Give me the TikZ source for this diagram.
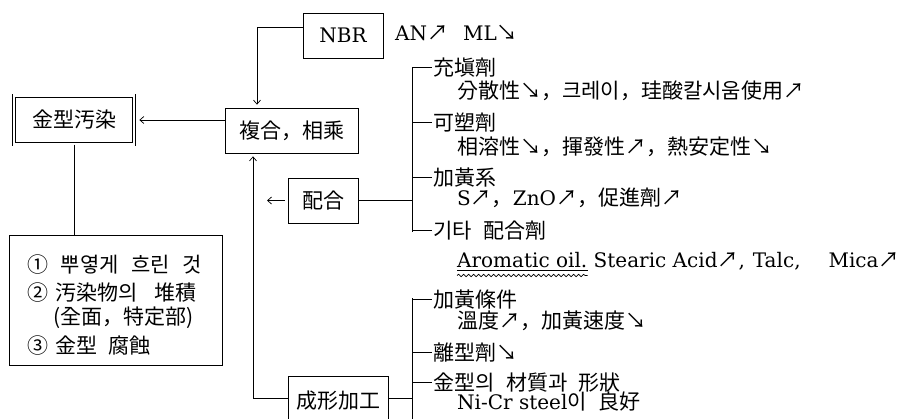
\documentclass[tikz,border=0pt]{standalone}
\usepackage{fontspec}
\setmainfont{DejaVu Serif}
\newfontfamily\cjk{Noto Sans CJK KR}[Scale=1.05]
\usetikzlibrary{arrows.meta,decorations.pathmorphing}
\newcommand\myNE{{\cjk ↗}}
\newcommand\mySE{{\cjk ↘}}
\newcommand\ksp{\hspace{0.55em}}
\tikzset{
  ln/.style={line width=0.7pt},
  arr/.style={ln,-{Straight Barb[length=4pt,width=7pt]}},
  box/.style={draw,ln,inner sep=0pt,font=\fontsize{20}{24}\selectfont},
  lbl/.style={anchor=base west,inner sep=0pt,font=\fontsize{20}{24}\selectfont},
}
\begin{document}
\begin{tikzpicture}[x=1pt,y=-1pt]
\fill[white] (0,0) rectangle (920,418);
\useasboundingbox (0,0) rectangle (920,418);
\clip (0,0) rectangle (920,418);

% boxes
\node[box,double,double distance=2.6pt,minimum width=120pt,minimum height=48.5pt] (kin) at (74,120) {\cjk 金型汚染};
\node[box,minimum width=133pt,minimum height=45pt] (fukugo) at (291.5,130.5) {\cjk 複合，相乘};
\node[box,minimum width=80pt,minimum height=45pt] (nbr) at (343,35.5) {NBR};
\node[box,minimum width=70pt,minimum height=45pt] (haigo) at (323,200.5) {\cjk 配合};
\node[box,minimum width=100pt,minimum height=50pt] (seikei) at (338,401) {\cjk 成形加工};
\node[box,minimum width=213pt,minimum height=130pt] (eff) at (115.5,300) {};

% texts
\node[lbl] (an) at (395,40) {AN\myNE\hspace{0.75em}ML\mySE};

\node[lbl] (e1) at (27,272) {\cjk ①\hspace{0.6em}뿌옇게\hspace{0.6em}흐린\hspace{0.6em}것};
\node[lbl] (e2) at (27,300) {\cjk ②\hspace{0.35em}汚染物의\hspace{0.8em}堆積};
\node[lbl] (e3) at (53,324) {\cjk (全面，特定部)};
\node[lbl] (e4) at (27,353) {\cjk ③\hspace{0.35em}金型\hspace{0.5em}腐蝕};

\node[lbl] (a1) at (433,75) {\cjk 充塡劑};
\node[lbl] (a2) at (457,98) {{\cjk 分散性}\mySE{\cjk ，크레이，珪酸칼시움使用}\myNE};
\node[lbl] (a3) at (433,130) {\cjk 可塑劑};
\node[lbl] (a4) at (457,154) {{\cjk 相溶性}\mySE{\cjk ，揮發性}\myNE{\cjk ，熱安定性}\mySE};
\node[lbl] (a5) at (433,185) {\cjk 加黃系};
\node[lbl] (a6) at (457,205) {S\myNE{\cjk ，}ZnO\myNE{\cjk ，促進劑}\myNE};
\node[lbl] (a7) at (433,238) {\cjk 기타\ksp 配合劑};
\node[lbl] (a8) at (457,267) {Aromatic oil.};
\node[lbl] (a9) at ([xshift=6pt]a8.base east) {Stearic Acid\myNE,\hspace{0.4em}Talc,\hspace{1.4em}Mica\myNE};

\node[lbl] (b1) at (433,307) {\cjk 加黃條件};
\node[lbl] (b2) at (457,328) {{\cjk 溫度}\myNE{\cjk ，加黃速度}\mySE};
\node[lbl] (b3) at (433,360) {{\cjk 離型劑}\mySE};
\node[lbl] (b4) at (433,390) {\cjk 金型의\ksp 材質과\ksp 形狀};
\node[lbl] (b5) at (457,409) {Ni-Cr steel{\cjk 이\ksp 良好}};

% underlines
\draw[ln] ([yshift=-3.5pt]a8.base west) -- ([yshift=-3.5pt]a8.base east);
\draw[ln,decorate,decoration={snake,segment length=5pt,amplitude=1.2pt}]
  ([yshift=-8.5pt]a8.base west) -- ([yshift=-8.5pt]a8.base east);

% coordinates
\coordinate (nbrc) at (257,27);
\coordinate (upc) at (253,398);
\coordinate (hc) at (267,200.5);
\coordinate (brAt) at (412,67);
\coordinate (brAb) at (412,232);
\coordinate (brBt) at (412,298);
\coordinate (brBb) at (412,420);

% connectors
\draw[arr,shorten >=5pt] (fukugo.west |- kin.east) -- (kin.east);
\draw[ln] (kin.south) -- (kin.south |- eff.north);
\draw[arr] ([yshift=8.5pt]nbr.west) -- (nbrc) -- ([yshift=3pt]nbrc |- fukugo.north);
\draw[arr] (seikei.west |- upc) -- (upc) -- ([yshift=-3pt]upc |- fukugo.south);
\draw[arr] ([xshift=-3pt]haigo.west) -- (hc);
\draw[ln] (haigo.east) -- (haigo.east -| brAt);
\draw[ln] (seikei.east |- upc) -- (upc -| brBt);

% brackets
\draw[ln] (brAt) -- (brAb);
\draw[ln] (brBt) -- (brBb);
\foreach \n in {a1,a3,a5,a7}
  \draw[ln] (\n.west -| brAt) -- ([xshift=-1pt]\n.west);
\foreach \n in {b1,b3,b4}
  \draw[ln] (\n.west -| brBt) -- ([xshift=-1pt]\n.west);
\end{tikzpicture}
\end{document}
